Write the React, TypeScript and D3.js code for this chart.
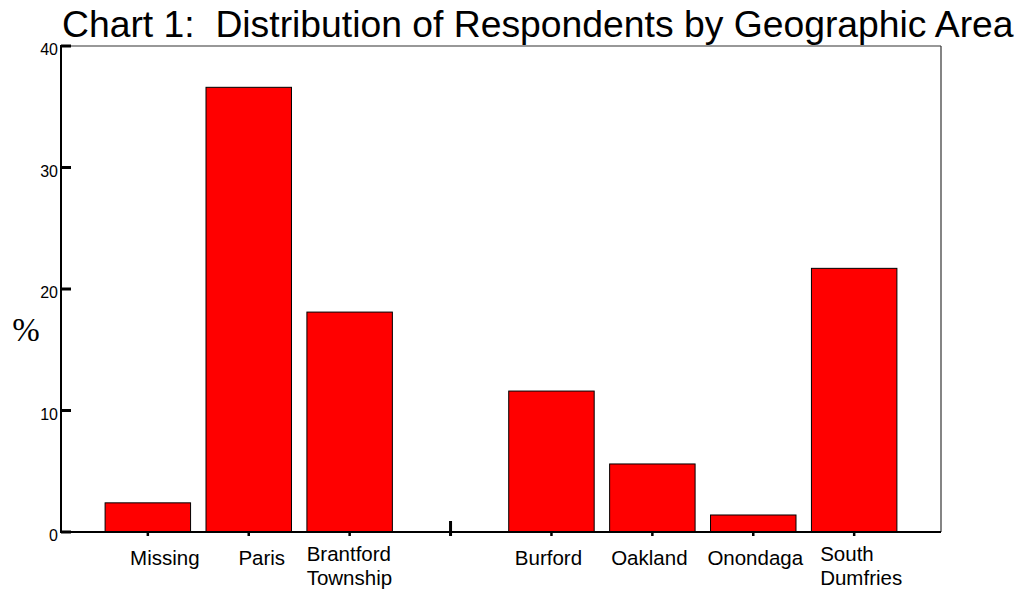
import React from "react";
import * as d3 from "d3";

const categories = ["Missing", "Paris", "Brantford Township", "", "Burford", "Oakland", "Onondaga", "South Dumfries"];
const percents: (number | null)[] = [2.4, 36.6, 18.1, null, 11.6, 5.6, 1.4, 21.7];
const yTicks = [0, 10, 20, 30, 40];
const titleText = "Chart 1:  Distribution of Respondents by Geographic Area";
const yLabel = "%";

// layout tweaks for category labels (single-line labels are centered with a shift, two-line ones are left aligned)
const labelShift: Record<string, number> = {
  Missing: 17,
  Paris: 13,
  "Brantford Township": -43,
  Burford: -3,
  Oakland: -3,
  Onondaga: 2,
  "South Dumfries": -34,
};

const W = 1018;
const H = 591;
const left = 61;
const right = 941;
const top = 46;
const bottom = 532;

export default function App() {
  const x = d3
    .scaleBand<string>()
    .domain(categories.map((c, i) => c || `__blank${i}`))
    .range([left, right])
    .paddingInner(0.153)
    .paddingOuter(0.437);
  const y = d3.scaleLinear().domain([0, 40]).range([bottom, top]);
  const key = (c: string, i: number) => c || `__blank${i}`;
  const font = "Liberation Sans, Arial, sans-serif";

  return (
    <div style={{ position: "fixed", left: 0, top: 0, width: W, height: H, background: "#fff" }}>
      <svg width={W} height={H} style={{ display: "block" }}>
        <rect x={0} y={0} width={W} height={H} fill="#fff" />
        <text x={62} y={37} fontFamily={font} fontSize={37.3} fill="#000" style={{ whiteSpace: "pre" }}>
          {titleText}
        </text>
        {/* frame */}
        <line x1={left} x2={right} y1={top} y2={top} stroke="#333" strokeWidth={1.2} />
        <line x1={right} x2={right} y1={top} y2={bottom} stroke="#333" strokeWidth={1.2} />
        {/* bars */}
        {categories.map((c, i) => {
          const v = percents[i];
          if (v == null) return null;
          const x0 = x(key(c, i))!;
          return (
            <rect
              key={i}
              x={x0}
              y={y(v)}
              width={x.bandwidth()}
              height={bottom - y(v)}
              fill="#ff0000"
              stroke="#000"
              strokeWidth={1}
            />
          );
        })}
        {/* axes */}
        <line x1={left} x2={left} y1={top - 1} y2={bottom + 1} stroke="#000" strokeWidth={2} />
        <line x1={left - 1} x2={right} y1={bottom} y2={bottom} stroke="#000" strokeWidth={2} />
        {yTicks.map((t) => (
          <g key={t}>
            <line x1={left} x2={left + 10} y1={y(t)} y2={y(t)} stroke="#000" strokeWidth={3} />
            <text
              x={left - 3}
              y={y(t) + 9}
              textAnchor="end"
              fontFamily={font}
              fontSize={16}
              fill="#000"
            >
              {t}
            </text>
          </g>
        ))}
        <text x={26} y={341} textAnchor="middle" fontFamily="Liberation Serif, Times New Roman, serif" fontSize={33} fill="#000">
          {yLabel}
        </text>
        {/* x ticks and labels */}
        {categories.map((c, i) => {
          const cx = x(key(c, i))! + x.bandwidth() / 2;
          if (!c) {
            return (
              <line key={i} x1={cx} x2={cx} y1={bottom - 11} y2={bottom + 4} stroke="#000" strokeWidth={3} />
            );
          }
          const words = c.split(" ");
          const shift = labelShift[c] ?? 0;
          return (
            <g key={i}>
              <line x1={cx} x2={cx} y1={bottom} y2={bottom + 4} stroke="#000" strokeWidth={2.5} />
              {words.length > 1 ? (
                <text x={cx + shift} y={561} textAnchor="start" fontFamily={font} fontSize={20.5} fill="#000">
                  {words.map((w, j) => (
                    <tspan key={j} x={cx + shift} dy={j === 0 ? 0 : 24}>
                      {w}
                    </tspan>
                  ))}
                </text>
              ) : (
                <text x={cx + shift} y={565} textAnchor="middle" fontFamily={font} fontSize={20.5} fill="#000">
                  {c}
                </text>
              )}
            </g>
          );
        })}
      </svg>
    </div>
  );
}
